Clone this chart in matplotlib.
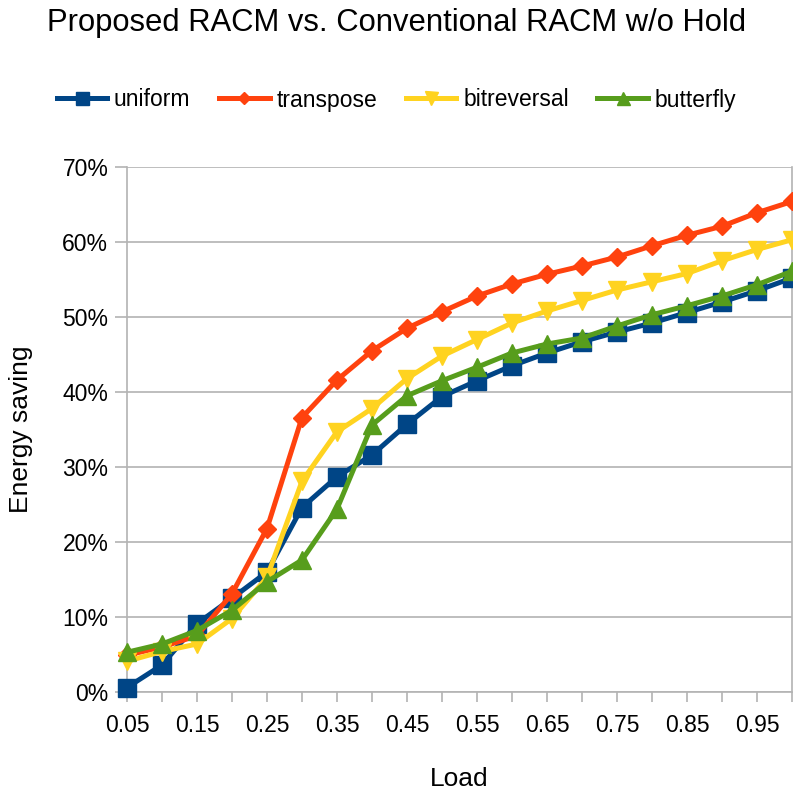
import numpy as np
import matplotlib.pyplot as plt
from matplotlib.ticker import PercentFormatter

plt.rcParams['font.family'] = ['Liberation Sans', 'DejaVu Sans']

# data
load = ['0.05', '0.1', '0.15', '0.2', '0.25', '0.3', '0.35', '0.4', '0.45', '0.5',
        '0.55', '0.6', '0.65', '0.7', '0.75', '0.8', '0.85', '0.9', '0.95', '1']
uniform = [0.6, 3.6, 9.1, 12.5, 16.0, 24.6, 28.7, 31.6, 35.7, 39.4,
           41.5, 43.5, 45.2, 46.7, 48.0, 49.2, 50.6, 52.0, 53.5, 55.2]
transpose = [4.9, 6.0, 7.5, 13.1, 21.8, 36.6, 41.6, 45.5, 48.5, 50.7,
             52.8, 54.4, 55.7, 56.8, 58.0, 59.5, 60.9, 62.1, 63.9, 65.4]
bitreversal = [4.1, 5.4, 6.4, 9.8, 15.3, 28.1, 34.7, 37.8, 41.8, 44.8,
               47.0, 49.2, 50.8, 52.2, 53.6, 54.7, 55.8, 57.5, 59.0, 60.3]
butterfly = [5.3, 6.4, 8.2, 10.9, 14.7, 17.6, 24.4, 35.6, 39.5, 41.5,
             43.3, 45.2, 46.4, 47.2, 48.8, 50.3, 51.5, 52.8, 54.3, 56.1]

series = [('uniform', uniform, '#004586', 's', 13),
          ('transpose', transpose, '#ff420e', 'D', 9),
          ('bitreversal', bitreversal, '#ffd320', 'v', 13),
          ('butterfly', butterfly, '#579d1c', '^', 13)]

fig = plt.figure(figsize=(7.93, 7.95), dpi=100)
ax = fig.add_axes([127/793, 1 - 692/795, 665/793, 525/795])

x = np.arange(len(load))
for name, vals, col, mk, ms in series:
    ax.plot(x, vals, color=col, marker=mk, markersize=ms, linewidth=3.6,
            label=name, clip_on=False, zorder=3)

ax.set_xlim(0, len(load) - 1)
ax.set_ylim(0, 70)
ax.set_yticks(np.arange(0, 71, 10))
ax.yaxis.set_major_formatter(PercentFormatter(decimals=0))
ax.set_xticks(x)
# label every other load value
ax.set_xticklabels([l if i % 2 == 0 else '' for i, l in enumerate(load)])

ax.grid(axis='y', color='#b3b3b3', linewidth=1.2)
ax.set_axisbelow(True)
for s in ['left', 'bottom', 'right']:
    ax.spines[s].set_color('#b3b3b3')
    ax.spines[s].set_linewidth(1.2)
ax.spines['top'].set_visible(False)
ax.tick_params(axis='x', length=7, color='#b3b3b3', width=1.2, labelsize=16.5, pad=9)
ax.tick_params(axis='y', length=8.5, color='#b3b3b3', width=1.2, labelsize=16.5, pad=5)

ax.set_xlabel('Load', fontsize=19)
ax.xaxis.set_label_coords(0.5, -0.142)
ax.set_ylabel('Energy saving', fontsize=19)
ax.yaxis.set_label_coords(-0.142, 0.5)

fig.suptitle('Proposed RACM vs. Conventional RACM w/o Hold', fontsize=22.3, y=0.99)
fig.legend(loc='center', bbox_to_anchor=(0.5, 1 - 100/795), ncol=4, frameon=False,
           fontsize=16.5, handlelength=2.2, handletextpad=0.3, columnspacing=1.25,
           markerscale=0.72)

fig.savefig('out.png', dpi=100)
